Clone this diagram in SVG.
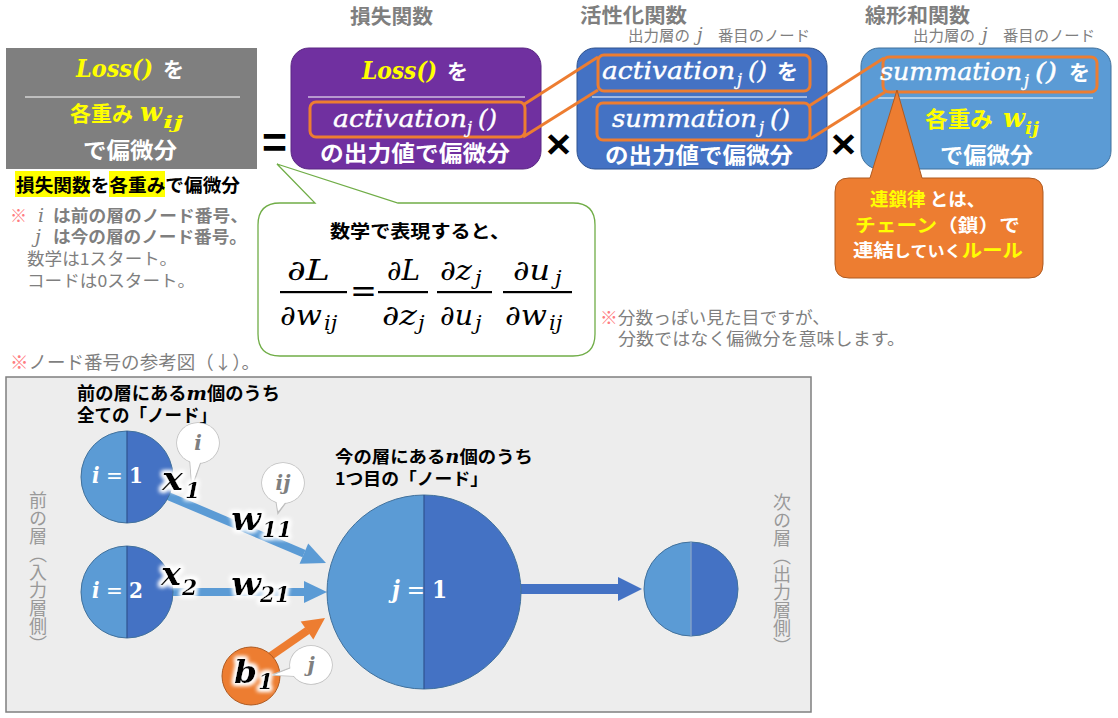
<svg xmlns="http://www.w3.org/2000/svg" width="1118" height="718" viewBox="0 0 1118 718">
<style>
.jp{font-family:"Noto Sans CJK JP","Noto Sans",sans-serif}
.jb{font-family:"Noto Sans CJK JP","Noto Sans",sans-serif;font-weight:700}
.m{font-family:"DejaVu Serif","Liberation Serif",serif;font-style:italic}
.mb{font-family:"DejaVu Serif","Liberation Serif",serif;font-style:italic;font-weight:700}
.mw{font-family:"DejaVu Serif","Liberation Serif",serif;font-style:italic;fill:#fff;stroke:#fff;stroke-width:0.4}
.w{fill:#fff}
.y{fill:#ffff00}
.gr{fill:#7f7f7f}
.lg{fill:#999999}
.red{fill:#ff7c80}
.orr{fill:none;stroke:#ed7d31;stroke-width:3}
.sep{stroke:#fff;stroke-width:1}
.hl{fill:#5b9bd5}
.hd{fill:#4472c4}
.nodeo{fill:none;stroke:#41719c;stroke-width:1}
.div{stroke:#2f528f;stroke-width:1.2}
.bs{fill:#fff;stroke:#bfbfbf;stroke-width:1.5}
.bf{fill:#fff}
.bt{font-family:"DejaVu Serif","Liberation Serif",serif;font-style:italic;font-weight:700;fill:#7f7f7f}
</style>
<defs>
<filter id="glow" x="-30%" y="-30%" width="160%" height="160%">
<feMorphology in="SourceAlpha" operator="dilate" radius="2" result="d"/>
<feGaussianBlur in="d" stdDeviation="2.2" result="b"/>
<feFlood flood-color="#ffffff"/>
<feComposite in2="b" operator="in" result="g"/>
<feMerge><feMergeNode in="g"/><feMergeNode in="g"/><feMergeNode in="SourceGraphic"/></feMerge>
</filter>
</defs>

<!-- Gray box -->
<g id="loss-box">
<rect x="6" y="48" width="251" height="121" fill="#7f7f7f"/>
<text x="76" y="77" class="mb y" font-size="24" textLength="77" lengthAdjust="spacingAndGlyphs">Loss()</text>
<text x="163" y="77" class="jb w" font-size="21">を</text>
<line x1="25" y1="97" x2="240" y2="97" class="sep"/>
<text x="70" y="121" class="jb y" font-size="21" textLength="63" lengthAdjust="spacingAndGlyphs">各重み</text>
<text x="140" y="121" class="mb y" font-size="26" textLength="22" lengthAdjust="spacingAndGlyphs">w</text>
<text x="163" y="128" class="mb y" font-size="16" textLength="20" lengthAdjust="spacingAndGlyphs">ij</text>
<text x="83" y="158" class="jb w" font-size="22" textLength="94" lengthAdjust="spacingAndGlyphs">で偏微分</text>
</g>

<g id="caption">
<rect x="15" y="171" width="75" height="26" fill="#ffff00"/>
<rect x="109" y="171" width="56" height="26" fill="#ffff00"/>
<text x="16" y="192" class="jb" font-size="18.5" textLength="224" lengthAdjust="spacingAndGlyphs">損失関数を各重みで偏微分</text>
</g>

<g id="note1">
<text x="10" y="222" class="jp red" font-size="17">※</text>
<text x="38" y="222" class="m gr" font-size="19">i</text>
<text x="53" y="222" class="jb gr" font-size="16.5" textLength="195" lengthAdjust="spacingAndGlyphs">は前の層のノード番号、</text>
<text x="35" y="243" class="m gr" font-size="19">j</text>
<text x="53" y="243" class="jb gr" font-size="16.5" textLength="194" lengthAdjust="spacingAndGlyphs">は今の層のノード番号。</text>
<text x="27" y="265" class="jp gr" font-size="16.5" textLength="150" lengthAdjust="spacingAndGlyphs">数学は1スタート。</text>
<text x="27" y="287" class="jp gr" font-size="16.5" textLength="168" lengthAdjust="spacingAndGlyphs">コードは0スタート。</text>
</g>

<text x="262" y="158" font-family="Liberation Sans, sans-serif" font-weight="700" font-size="44" textLength="25" lengthAdjust="spacingAndGlyphs">=</text>
<text x="546" y="158" font-family="Liberation Sans, sans-serif" font-weight="700" font-size="40" textLength="25" lengthAdjust="spacingAndGlyphs">×</text>
<text x="831" y="158" font-family="Liberation Sans, sans-serif" font-weight="700" font-size="40" textLength="25" lengthAdjust="spacingAndGlyphs">×</text>

<!-- Purple box -->
<g id="loss-fn">
<text x="350" y="24" class="jb gr" font-size="20.5" textLength="83" lengthAdjust="spacingAndGlyphs">損失関数</text>
<rect x="291" y="48" width="250" height="121" rx="18" fill="#7030a0" stroke="#5a2783" stroke-width="1"/>
<text x="362" y="79" class="mb y" font-size="24" textLength="75" lengthAdjust="spacingAndGlyphs">Loss()</text>
<text x="447" y="79" class="jb w" font-size="21">を</text>
<line x1="308" y1="97" x2="525" y2="97" class="sep"/>
<rect x="310" y="102" width="215" height="35" rx="6" class="orr"/>
<text x="333" y="127" class="mw" font-size="24" textLength="134" lengthAdjust="spacingAndGlyphs">activation</text>
<text x="467" y="133" class="mw" font-size="16">j</text>
<text x="478" y="127" class="mw" font-size="24" textLength="19" lengthAdjust="spacingAndGlyphs">()</text>
<text x="320" y="161" class="jb w" font-size="22" textLength="190" lengthAdjust="spacingAndGlyphs">の出力値で偏微分</text>
</g>

<!-- Activation box -->
<g id="activation-fn">
<text x="580" y="23" class="jb gr" font-size="20" textLength="107" lengthAdjust="spacingAndGlyphs">活性化関数</text>
<text x="628" y="41" class="jp gr" font-size="15" textLength="62" lengthAdjust="spacingAndGlyphs">出力層の</text>
<text x="697" y="41" class="m gr" font-size="18">j</text>
<text x="718" y="41" class="jp gr" font-size="15" textLength="92" lengthAdjust="spacingAndGlyphs">番目のノード</text>
<rect x="577" y="48" width="250" height="121" rx="18" fill="#4472c4" stroke="#2f528f" stroke-width="1"/>
<rect x="598" y="55" width="212" height="36" rx="6" class="orr"/>
<text x="602" y="79" class="mw" font-size="24" textLength="133" lengthAdjust="spacingAndGlyphs">activation</text>
<text x="737" y="85" class="mw" font-size="16">j</text>
<text x="748" y="79" class="mw" font-size="24" textLength="19" lengthAdjust="spacingAndGlyphs">()</text>
<text x="777" y="79" class="jb w" font-size="21">を</text>
<line x1="592" y1="97" x2="807" y2="97" class="sep"/>
<rect x="597" y="103" width="213" height="37" rx="6" class="orr"/>
<text x="612" y="127" class="mw" font-size="24" textLength="145" lengthAdjust="spacingAndGlyphs">summation</text>
<text x="759" y="133" class="mw" font-size="16">j</text>
<text x="770" y="127" class="mw" font-size="24" textLength="20" lengthAdjust="spacingAndGlyphs">()</text>
<text x="605" y="163" class="jb w" font-size="22" textLength="188" lengthAdjust="spacingAndGlyphs">の出力値で偏微分</text>
</g>

<!-- Summation box -->
<g id="summation-fn">
<text x="865" y="23" class="jb gr" font-size="20" textLength="105" lengthAdjust="spacingAndGlyphs">線形和関数</text>
<text x="913" y="41" class="jp gr" font-size="15" textLength="62" lengthAdjust="spacingAndGlyphs">出力層の</text>
<text x="982" y="41" class="m gr" font-size="18">j</text>
<text x="1003" y="41" class="jp gr" font-size="15" textLength="92" lengthAdjust="spacingAndGlyphs">番目のノード</text>
<rect x="861" y="48" width="250" height="121" rx="18" fill="#5b9bd5" stroke="#41719c" stroke-width="1"/>
<rect x="883" y="57" width="214" height="35" rx="6" class="orr"/>
<text x="880" y="80" class="mw" font-size="24" textLength="142" lengthAdjust="spacingAndGlyphs">summation</text>
<text x="1024" y="86" class="mw" font-size="16">j</text>
<text x="1035" y="80" class="mw" font-size="24" textLength="22" lengthAdjust="spacingAndGlyphs">()</text>
<text x="1069" y="80" class="jb w" font-size="21">を</text>
<line x1="878" y1="98" x2="1093" y2="98" class="sep"/>
<text x="925" y="127" class="jb y" font-size="22" textLength="68" lengthAdjust="spacingAndGlyphs">各重み</text>
<text x="1003" y="127" class="mb y" font-size="26" textLength="22" lengthAdjust="spacingAndGlyphs">w</text>
<text x="1025" y="134" class="mb y" font-size="16" textLength="14" lengthAdjust="spacingAndGlyphs">ij</text>
<text x="940" y="163" class="jb w" font-size="22" textLength="93" lengthAdjust="spacingAndGlyphs">で偏微分</text>
</g>

<!-- connectors between boxes -->
<g id="connectors" stroke="#ed7d31" stroke-width="3" fill="none">
<line x1="523" y1="105" x2="598" y2="57"/>
<line x1="523" y1="137" x2="598" y2="90"/>
<line x1="809" y1="106" x2="884" y2="58"/>
<line x1="810" y1="139" x2="885" y2="92"/>
</g>

<!-- Chain rule callout -->
<g id="chain-callout">
<path d="M849,178 L870,178 L897,90 L922,178 L1029,178 Q1043,178 1043,192 L1043,264 Q1043,278 1029,278 L849,278 Q835,278 835,264 L835,192 Q835,178 849,178 Z" fill="#ed7d31" stroke="#ae5a21" stroke-width="1"/>
<text x="870" y="206" class="jb" font-size="18.5"><tspan class="y">連鎖律</tspan><tspan class="w"> とは、</tspan></text>
<text x="855" y="232" class="jb" font-size="18.5" textLength="165" lengthAdjust="spacingAndGlyphs"><tspan class="y">チェーン</tspan><tspan class="w">（鎖）で</tspan></text>
<text x="853" y="257" class="jb" font-size="18.5" textLength="170" lengthAdjust="spacingAndGlyphs"><tspan class="w">連結</tspan><tspan class="w" font-size="15.5">していく</tspan><tspan class="y">ルール</tspan></text>
</g>

<!-- Math callout -->
<g id="math-callout">
<path d="M280,203 L315,203 L277,164 L398,203 L573,203 Q595,203 595,225 L595,334 Q595,356 573,356 L280,356 Q258,356 258,334 L258,225 Q258,203 280,203 Z" fill="#fff" stroke="#70ad47" stroke-width="1.3"/>
<text x="330" y="238" class="jb" font-size="18" textLength="180" lengthAdjust="spacingAndGlyphs">数学で表現すると、</text>
<g fill="#000" class="m">
<text x="287" y="280" font-size="28" textLength="43" lengthAdjust="spacingAndGlyphs">∂L</text>
<rect x="280" y="291" width="67" height="2.2"/>
<text x="280" y="325" font-size="28" textLength="42" lengthAdjust="spacingAndGlyphs">∂w</text>
<text x="324" y="330" font-size="21">ij</text>
<text x="350" y="302" font-size="32" font-style="normal" textLength="27" lengthAdjust="spacingAndGlyphs">=</text>
<text x="387" y="280" font-size="28" textLength="33" lengthAdjust="spacingAndGlyphs">∂L</text>
<rect x="378" y="291" width="50" height="2.2"/>
<text x="382" y="325" font-size="28" textLength="35" lengthAdjust="spacingAndGlyphs">∂z</text>
<text x="418" y="330" font-size="21">j</text>
<text x="440" y="280" font-size="28" textLength="32" lengthAdjust="spacingAndGlyphs">∂z</text>
<text x="475" y="285" font-size="21">j</text>
<rect x="437" y="291" width="55" height="2.2"/>
<text x="440" y="325" font-size="28" textLength="33" lengthAdjust="spacingAndGlyphs">∂u</text>
<text x="475" y="330" font-size="21">j</text>
<text x="513" y="280" font-size="28" textLength="37" lengthAdjust="spacingAndGlyphs">∂u</text>
<text x="555" y="285" font-size="21">j</text>
<rect x="503" y="291" width="69" height="2.2"/>
<text x="505" y="325" font-size="28" textLength="42" lengthAdjust="spacingAndGlyphs">∂w</text>
<text x="549" y="330" font-size="21">ij</text>
</g>
</g>

<g id="note2">
<text x="600" y="324" class="jp" font-size="17.5" textLength="230" lengthAdjust="spacingAndGlyphs"><tspan class="red">※</tspan><tspan class="gr">分数っぽい見た目ですが、</tspan></text>
<text x="618" y="345" class="jp gr" font-size="17.5" textLength="287" lengthAdjust="spacingAndGlyphs">分数ではなく偏微分を意味します。</text>
</g>

<text x="10" y="369" class="jp" font-size="18.5" textLength="250" lengthAdjust="spacingAndGlyphs"><tspan class="red">※</tspan><tspan class="gr">ノード番号の参考図（↓）。</tspan></text>

<!-- Panel -->
<g id="panel">
<rect x="6" y="377" width="805" height="335" fill="#ededed" stroke="#7f7f7f" stroke-width="1.5"/>
<text x="38" y="491" class="jp lg" font-size="18" style="writing-mode:vertical-rl">前の層（入力層側）</text>
<text x="782" y="493" class="jp lg" font-size="18" style="writing-mode:vertical-rl">次の層（出力層側）</text>
<text x="77" y="400" class="jb" font-size="18" textLength="203" lengthAdjust="spacingAndGlyphs">前の層にある<tspan class="mb" font-size="19">m</tspan>個のうち</text>
<text x="77" y="422" class="jb" font-size="18" textLength="140" lengthAdjust="spacingAndGlyphs">全ての「ノード」</text>
<text x="335" y="463" class="jb" font-size="17" textLength="198" lengthAdjust="spacingAndGlyphs">今の層にある<tspan class="mb" font-size="18">n</tspan>個のうち</text>
<text x="335" y="485" class="jb" font-size="17" textLength="153" lengthAdjust="spacingAndGlyphs">1つ目の「ノード」</text>
</g>

<!-- Arrows -->
<g id="arrows">
<line x1="168" y1="496" x2="304" y2="553.6" stroke="#5b9bd5" stroke-width="8"/>
<polygon points="299.6,563.7 326,563 308.2,543.5" fill="#5b9bd5"/>
<line x1="173" y1="592" x2="305" y2="592" stroke="#5b9bd5" stroke-width="8"/>
<polygon points="304,581 327,592 304,603" fill="#5b9bd5"/>
<line x1="262" y1="662" x2="307.5" y2="630.5" stroke="#ed7d31" stroke-width="8"/>
<polygon points="313.3,639.6 325,618 300.7,621.6" fill="#ed7d31"/>
<line x1="521" y1="589" x2="619" y2="589" stroke="#4472c4" stroke-width="10"/>
<polygon points="618,577 642,589 618,601" fill="#4472c4"/>
</g>

<!-- Nodes -->
<g id="node-i1">
<path d="M127,431 A46,46 0 0 0 127,523 Z" class="hl"/>
<path d="M127,431 A46,46 0 0 1 127,523 Z" class="hd"/>
<circle cx="127" cy="477" r="46" class="nodeo"/>
<line x1="127" y1="431" x2="127" y2="523" class="div"/>
<text x="92" y="483" class="mb w" font-size="22" textLength="51" lengthAdjust="spacingAndGlyphs">i<tspan font-style="normal" font-weight="400"> = </tspan><tspan font-style="normal">1</tspan></text>
</g>
<g id="node-i2">
<path d="M127,546 A46,46 0 0 0 127,638 Z" class="hl"/>
<path d="M127,546 A46,46 0 0 1 127,638 Z" class="hd"/>
<circle cx="127" cy="592" r="46" class="nodeo"/>
<line x1="127" y1="546" x2="127" y2="638" class="div"/>
<text x="92" y="598" class="mb w" font-size="22" textLength="51" lengthAdjust="spacingAndGlyphs">i<tspan font-style="normal" font-weight="400"> = </tspan><tspan font-style="normal">2</tspan></text>
</g>
<g id="node-j1">
<path d="M424,495 A97,97 0 0 0 424,689 Z" class="hl"/>
<path d="M424,495 A97,97 0 0 1 424,689 Z" class="hd"/>
<circle cx="424" cy="592" r="97" class="nodeo"/>
<line x1="424" y1="495" x2="424" y2="689" class="div"/>
<text x="392" y="598" class="mb w" font-size="24" textLength="55" lengthAdjust="spacingAndGlyphs">j<tspan font-style="normal" font-weight="400"> = </tspan><tspan font-style="normal">1</tspan></text>
</g>
<g id="node-out">
<path d="M691,542 A47,47 0 0 0 691,636 Z" class="hl"/>
<path d="M691,542 A47,47 0 0 1 691,636 Z" class="hd"/>
<circle cx="691" cy="589" r="47" class="nodeo"/>
<line x1="691" y1="542" x2="691" y2="636" stroke="#7f9fc8" stroke-width="1.5"/>
</g>
<g id="node-b1">
<circle cx="251" cy="676" r="29" fill="#ed7d31" stroke="#ae5a21" stroke-width="1"/>
</g>

<!-- Bubbles -->
<g id="bubble-i">
<ellipse cx="198" cy="443" rx="21" ry="20" class="bs"/>
<polygon points="190,460 201,461 192,487" class="bs"/>
<ellipse cx="198" cy="443" rx="21" ry="20" class="bf"/>
<polygon points="190,459 201,460 192,485" class="bf"/>
<text x="198" y="450" class="bt" font-size="20" text-anchor="middle">i</text>
</g>
<g id="bubble-ij">
<ellipse cx="283" cy="483" rx="21" ry="20" class="bs"/>
<polygon points="276,500 287,501 278,513" class="bs"/>
<ellipse cx="283" cy="483" rx="21" ry="20" class="bf"/>
<polygon points="276,499 287,500 278,511" class="bf"/>
<text x="283" y="490" class="bt" font-size="20" text-anchor="middle">ij</text>
</g>
<g id="bubble-j">
<ellipse cx="311" cy="665" rx="21" ry="19" class="bs"/>
<polygon points="293,667 294,676 272,675" class="bs"/>
<ellipse cx="311" cy="665" rx="21" ry="19" class="bf"/>
<polygon points="294,667 295,676 274,675" class="bf"/>
<text x="311" y="672" class="bt" font-size="20" text-anchor="middle">j</text>
</g>

<!-- Labels -->
<g id="labels" filter="url(#glow)">
<text x="162" y="490" class="mb" font-size="32" textLength="21" lengthAdjust="spacingAndGlyphs">x</text>
<text x="185" y="498" class="mb" font-size="22">1</text>
<text x="231" y="530" class="mb" font-size="32" textLength="30" lengthAdjust="spacingAndGlyphs">w</text>
<text x="262" y="537" class="mb" font-size="22" textLength="30" lengthAdjust="spacingAndGlyphs">11</text>
<text x="161" y="585" class="mb" font-size="32" textLength="20" lengthAdjust="spacingAndGlyphs">x</text>
<text x="182" y="595" class="mb" font-size="22">2</text>
<text x="231" y="595" class="mb" font-size="32" textLength="30" lengthAdjust="spacingAndGlyphs">w</text>
<text x="260" y="602" class="mb" font-size="22" textLength="30" lengthAdjust="spacingAndGlyphs">21</text>
<text x="234" y="683" class="mb" font-size="32" textLength="23" lengthAdjust="spacingAndGlyphs">b</text>
<text x="258" y="689" class="mb" font-size="22">1</text>
</g>
</svg>
